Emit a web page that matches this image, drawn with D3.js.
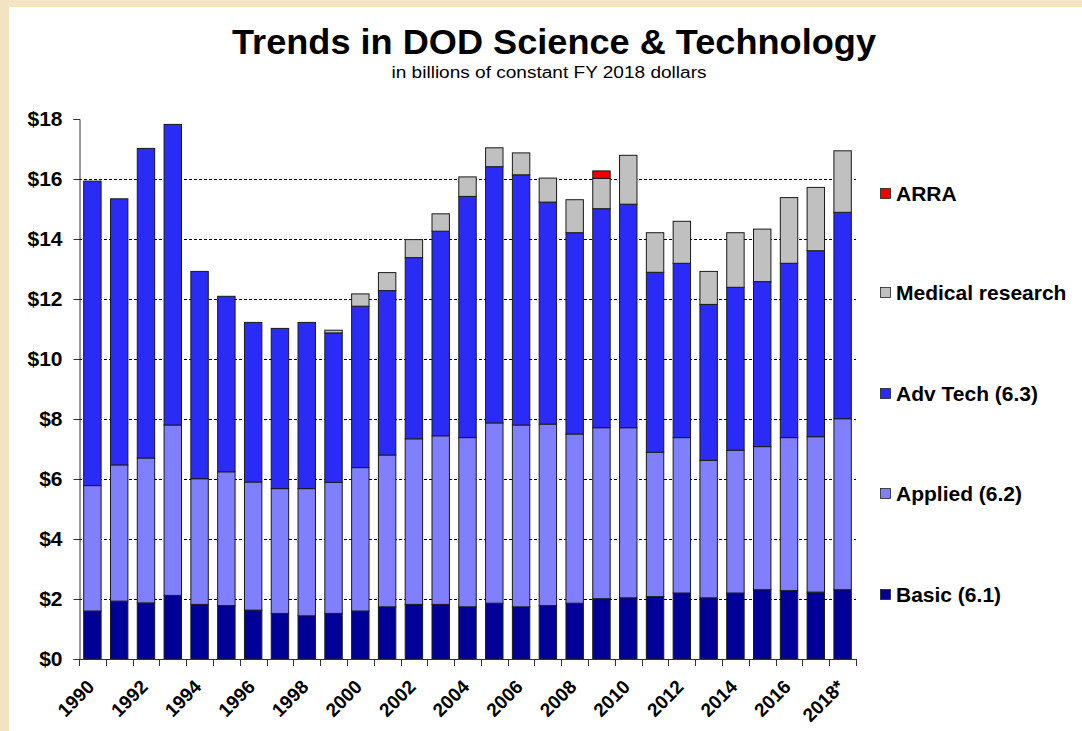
<!DOCTYPE html>
<html><head><meta charset="utf-8">
<script src="https://cdn.jsdelivr.net/npm/d3@7"></script>
<style>
html,body{margin:0;padding:0;background:#F3E3C0;}
svg{display:block;}
text{font-family:"Liberation Sans",Arial,sans-serif;}
</style></head>
<body>
<svg id="c" width="1082" height="731"></svg>
<script>
const years = ["1990","1991","1992","1993","1994","1995","1996","1997","1998","1999","2000","2001","2002","2003","2004","2005","2006","2007","2008","2009","2010","2011","2012","2013","2014","2015","2016","2017","2018*"];
const tickLabels = ["1990","1992","1994","1996","1998","2000","2002","2004","2006","2008","2010","2012","2014","2016","2018*"];
const basic   = [1.60,1.93,1.87,2.12,1.82,1.78,1.63,1.52,1.44,1.52,1.60,1.74,1.82,1.82,1.74,1.86,1.74,1.78,1.86,2.01,2.04,2.08,2.20,2.04,2.20,2.31,2.28,2.23,2.31];
const applied = [4.18,4.54,4.83,5.68,4.19,4.46,4.27,4.16,4.24,4.37,4.78,5.06,5.52,5.62,5.64,6.01,6.06,6.05,5.64,5.70,5.67,4.81,5.18,4.58,4.76,4.77,5.10,5.18,5.70];
const advTech = [10.15,8.87,10.32,10.02,6.91,5.85,5.32,5.34,5.54,4.98,5.38,5.48,6.04,6.82,8.04,8.54,8.34,7.40,6.71,7.30,7.45,6.00,5.81,5.20,5.43,5.50,5.81,6.20,6.88];
const medical = [0,0,0,0,0,0,0,0,0,0.09,0.41,0.60,0.60,0.58,0.65,0.63,0.73,0.80,1.10,1.01,1.63,1.32,1.40,1.10,1.82,1.75,2.19,2.11,2.05];
const arra    = [0,0,0,0,0,0,0,0,0,0,0,0,0,0,0,0,0,0,0,0.25,0,0,0,0,0,0,0,0,0];
const yTicks = [0,2,4,6,8,10,12,14,16,18];
const seriesNames = ["Basic (6.1)","Applied (6.2)","Adv Tech (6.3)","Medical research","ARRA"];
const seriesColors = ["#000099","#8080FF","#2B2BF8","#C0C0C0","#F00000"];

const svg = d3.select("#c");
svg.append("rect").attr("x",9).attr("y",7).attr("width",1073).attr("height",724).attr("fill","#fff");

const x0 = 79, x1 = 856, yTop = 119, yBot = 659;
const x = d3.scaleBand().domain(years).range([x0,x1]).paddingInner(0.35).paddingOuter(0.175);
const y = d3.scaleLinear().domain([0,18]).range([yBot,yTop]);

// Title
svg.append("text").attr("x",554).attr("y",54).attr("text-anchor","middle")
  .attr("font-size",35).attr("font-weight","bold").attr("fill","#000")
  .attr("textLength",644).attr("lengthAdjust","spacingAndGlyphs")
  .text("Trends in DOD Science & Technology");
svg.append("text").attr("x",549).attr("y",78).attr("text-anchor","middle")
  .attr("font-size",16).attr("fill","#000")
  .attr("textLength",315).attr("lengthAdjust","spacingAndGlyphs")
  .text("in billions of constant FY 2018 dollars");

// gridlines
svg.append("g").selectAll("line").data(yTicks.filter(t=>t>0 && t<18)).join("line")
  .attr("x1",x0).attr("x2",x1).attr("y1",d=>y(d)+0.5).attr("y2",d=>y(d)+0.5)
  .attr("stroke","#000").attr("stroke-width",1).attr("stroke-dasharray","3,2");

// stack
const data = years.map((yr,i)=>({year:yr, s0:basic[i], s1:applied[i], s2:advTech[i], s3:medical[i], s4:arra[i]}));
const stack = d3.stack().keys(["s0","s1","s2","s3","s4"]);
const layers = stack(data);
svg.append("g").selectAll("g").data(layers).join("g")
  .attr("fill",(d,i)=>seriesColors[i])
  .selectAll("rect").data(d=>d.filter(p=>p[1]-p[0]>0)).join("rect")
  .attr("x",d=>x(d.data.year)).attr("width",x.bandwidth())
  .attr("y",d=>y(d[1])).attr("height",d=>y(d[0])-y(d[1]))
  .attr("stroke","#1a1a1a").attr("stroke-width",1);

// y axis
const yAxis = d3.axisLeft(y).tickValues(yTicks).tickSize(6).tickPadding(11).tickFormat(d=>"$"+d);
const gy = svg.append("g").attr("transform",`translate(${x0+0.5},0)`).call(yAxis);
gy.select(".domain").attr("stroke","#333");
gy.selectAll(".tick line").attr("stroke","#333");
gy.selectAll("text").attr("font-size",21).attr("font-weight","bold").attr("fill","#000")
  .attr("font-family","Liberation Sans, Arial, sans-serif");

// x axis: line + boundary ticks
const bounds = d3.range(years.length+1).map(i=>x0 + i*(x1-x0)/years.length);
svg.append("line").attr("x1",x0).attr("x2",x1).attr("y1",yBot+0.5).attr("y2",yBot+0.5).attr("stroke","#333");
svg.append("g").selectAll("line").data(bounds).join("line")
  .attr("x1",d=>Math.round(d)+0.5).attr("x2",d=>Math.round(d)+0.5)
  .attr("y1",yBot).attr("y2",yBot+7).attr("stroke","#333");

// x labels
svg.append("g").selectAll("text").data(tickLabels).join("text")
  .attr("transform",d=>{const cx=x(d)+x.bandwidth()/2+3; return `translate(${cx},${yBot+29}) rotate(-45)`;})
  .attr("text-anchor","end").attr("font-size",19).attr("font-weight","bold").attr("fill","#000")
  .text(d=>d);

// legend
const legY = [602,501,401,300,201];
const lg = svg.append("g");
seriesNames.forEach((n,i)=>{
  lg.append("rect").attr("x",880.5).attr("y",legY[i]-12.5).attr("width",10).attr("height",10)
    .attr("fill",seriesColors[i]).attr("stroke","#222").attr("stroke-width",0.8);
  lg.append("text").attr("x",896).attr("y",legY[i]).attr("font-size",21).attr("font-weight","bold")
    .attr("fill","#000").text(n);
});
</script>
</body></html>
